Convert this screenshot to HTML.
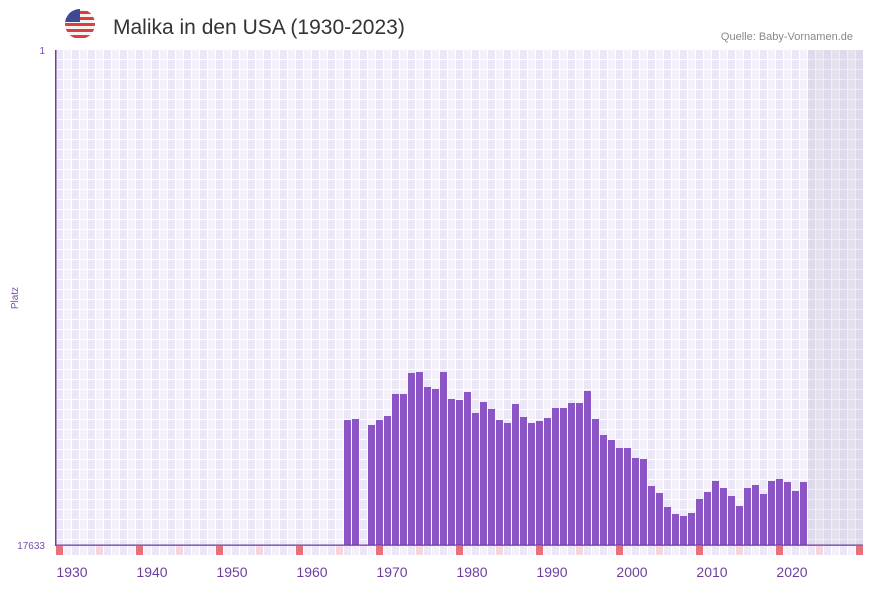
<!DOCTYPE html>
<html><head><style>
body{margin:0;background:#fff;font-family:"Liberation Sans",sans-serif;}
</style></head><body>
<svg width="873" height="587" xmlns="http://www.w3.org/2000/svg">
<defs>
<pattern id="g" x="56" y="50" width="16" height="10" patternUnits="userSpaceOnUse">
<rect width="8" height="10" fill="#ece7f7"/><rect x="8" width="8" height="10" fill="#f3f0fa"/>
<rect x="7" width="1" height="10" fill="#fff"/><rect x="15" width="1" height="10" fill="#fff"/>
<rect y="9" width="16" height="1" fill="#fff"/>
</pattern>
<clipPath id="fc"><circle cx="80" cy="24" r="15"/></clipPath>
</defs>
<rect x="56" y="50" width="807" height="495" fill="url(#g)"/>
<rect x="808" y="50" width="55" height="495" fill="#8070a0" opacity="0.12"/>
<g clip-path="url(#fc)">
<rect x="65" y="9" width="30" height="30" fill="#f4f4f4"/>
<rect x="65" y="11" width="30" height="3" fill="#e03c3c"/><rect x="65" y="17" width="30" height="3" fill="#e03c3c"/>
<rect x="65" y="23" width="30" height="3" fill="#e03c3c"/><rect x="65" y="29" width="30" height="3" fill="#e03c3c"/><rect x="65" y="35" width="30" height="3" fill="#e03c3c"/>
<rect x="65" y="9" width="15" height="13" fill="#3c4a96"/>
</g>
<text x="113" y="34" font-size="21" fill="#333">Malika in den USA (1930-2023)</text>
<text x="853" y="40" font-size="11" fill="#888" text-anchor="end">Quelle: Baby-Vornamen.de</text>
<text x="45" y="54" font-size="10" fill="#7a4ea8" text-anchor="end">1</text>
<text x="45" y="549" font-size="10" fill="#7a4ea8" text-anchor="end">17633</text>
<text x="18" y="298" font-size="10" fill="#7a4ea8" text-anchor="middle" transform="rotate(-90 18 298)">Platz</text>
<g id="bars" fill="#8c55c6"></g>
<g id="mk"></g>
<rect x="55" y="50" width="1.5" height="496" fill="#6b3fa0"/>
<rect x="55" y="544.5" width="808" height="1.3" fill="#6b3fa0"/>
<g font-size="14" fill="#6b3fa0" text-anchor="middle">
<text x="72" y="577">1930</text><text x="152" y="577">1940</text><text x="232" y="577">1950</text><text x="312" y="577">1960</text><text x="392" y="577">1970</text><text x="472" y="577">1980</text><text x="552" y="577">1990</text><text x="632" y="577">2000</text><text x="712" y="577">2010</text><text x="792" y="577">2020</text>
</g>
<script>
var t={36:420,37:419,39:425,40:420,41:416,42:394,43:394,44:373,45:372,46:387,47:389,48:372,49:399,50:400,51:392,52:413,53:402,54:409,55:420,56:423,57:404,58:417,59:423,60:421,61:418,62:408,63:408,64:403,65:403,66:391,67:419,68:435,69:440,70:448,71:448,72:458,73:459,74:486,75:493,76:507,77:514,78:516,79:513,80:499,81:492,82:481,83:488,84:496,85:506,86:488,87:485,88:494,89:481,90:479,91:482,92:491,93:482};
var ns="http://www.w3.org/2000/svg",b=document.getElementById("bars"),m=document.getElementById("mk");
for(var k in t){var r=document.createElementNS(ns,"rect");r.setAttribute("x",56+8*k);r.setAttribute("y",t[k]);r.setAttribute("width",7);r.setAttribute("height",545-t[k]);b.appendChild(r);}
for(var k=0;k<101;k++){var r=document.createElementNS(ns,"rect");r.setAttribute("x",56+8*k);r.setAttribute("y",546);r.setAttribute("width",7);r.setAttribute("height",9);
r.setAttribute("fill",k%10==0?"#e8707a":k%5==0?"#f5d6de":(k%2?"#f3f0fa":"#ece7f7"));m.appendChild(r);}
</script>
</svg>
</body></html>
